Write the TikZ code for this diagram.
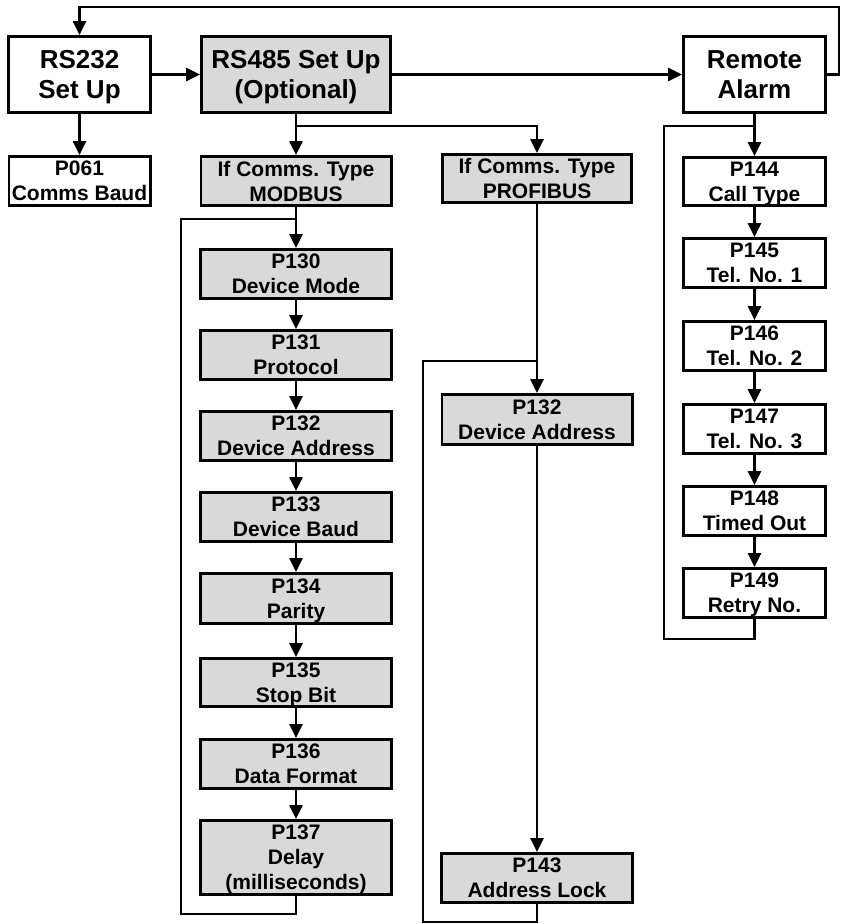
\documentclass[tikz,border=0pt]{standalone}
\usepackage{fontspec}
\setmainfont{Liberation Sans}
\usetikzlibrary{arrows.meta}
\definecolor{boxgray}{RGB}{217,217,217}
\newcommand{\bigf}{\fontsize{26}{30}\selectfont\bfseries}
\newcommand{\smallf}{\fontsize{21}{25}\selectfont\bfseries}
\tikzset{
  box/.style={draw=black, line width=2.6pt, inner sep=0pt, align=center, font=\smallf, fill=white, text depth=0pt},
  gbox/.style={box, fill=boxgray},
  bigbox/.style={font=\bigf},
  sz/.style 2 args={minimum width=#1pt-2.6pt, minimum height=#2pt-2.6pt},
  conn/.style={draw=black, line width=2.6pt},
  arr/.style={conn, -{Triangle[length=14pt,width=13pt]}}
}
\begin{document}
\begin{tikzpicture}[x=1pt,y=-1pt]
\useasboundingbox (0,0) rectangle (846,924);
% top row
\node[box,bigbox,sz={145}{79}] (rs232) at (79.5,74.5) {RS232\\Set Up};
\node[gbox,bigbox,sz={192}{79}] (rs485) at (296,74.5) {RS485 Set Up\\(Optional)};
\node[box,bigbox,sz={145}{79}] (remote) at (754.5,74.5) {Remote\\Alarm};
\node[box,sz={144}{52}] (p061) at (79.5,181) {P061\\Comms Baud};
% modbus column
\node[gbox,sz={193}{52}] (modbus) at (296,181) {If Comms. Type\\MODBUS};
\node[gbox,sz={194}{52}] (p130) at (296,274) {P130\\Device Mode};
\node[gbox,sz={194}{52}] (p131) at (296,355) {P131\\Protocol};
\node[gbox,sz={194}{52}] (p132a) at (296,436) {P132\\Device Address};
\node[gbox,sz={194}{52}] (p133) at (296,517) {P133\\Device Baud};
\node[gbox,sz={194}{53}] (p134) at (296,598.5) {P134\\Parity};
\node[gbox,sz={194}{51}] (p135) at (296,682.5) {P135\\Stop Bit};
\node[gbox,sz={194}{52}] (p136) at (296,764) {P136\\Data Format};
\node[gbox,sz={194}{77}] (p137) at (296,857.5) {P137\\Delay\\(milliseconds)};
% profibus column
\node[gbox,sz={192}{51}] (profibus) at (537,178.5) {If Comms. Type\\PROFIBUS};
\node[gbox,sz={193}{53}] (p132b) at (537,419.5) {P132\\Device Address};
\node[gbox,sz={194}{52}] (p143) at (537,878) {P143\\Address Lock};
% remote alarm column
\node[box,sz={145}{51}] (p144) at (754.5,181.5) {P144\\Call Type};
\node[box,sz={145}{52}] (p145) at (754.5,263) {P145\\Tel. No. 1};
\node[box,sz={145}{52}] (p146) at (754.5,346) {P146\\Tel. No. 2};
\node[box,sz={145}{52}] (p147) at (754.5,429) {P147\\Tel. No. 3};
\node[box,sz={145}{52}] (p148) at (754.5,511) {P148\\Timed Out};
\node[box,sz={145}{52}] (p149) at (754.5,593) {P149\\Retry No.};
% coordinates
\coordinate (tr) at (839,7);
\coordinate (br) at (296,126);
\coordinate (mlt) at (181,219);
\coordinate (mlb) at (181,914);
\coordinate (plt) at (423,361);
\coordinate (plb) at (423,922);
\coordinate (rlt) at (664,126);
\coordinate (rlb) at (664,639);
% top connectors
\draw[arr] (rs232) -- (rs485);
\draw[arr] (rs485) -- (remote);
\draw[arr] (remote.east) -| (tr) -| (rs232.north);
\draw[arr] (rs232.south) -- (p061.north);
\draw[arr] (rs485.south) -- (modbus.north);
\draw[arr] (br) -| (profibus.north);
% modbus chain
\draw[arr] (modbus) -- (p130);
\draw[arr] (p130) -- (p131);
\draw[arr] (p131) -- (p132a);
\draw[arr] (p132a) -- (p133);
\draw[arr] (p133) -- (p134);
\draw[arr] (p134) -- (p135);
\draw[arr] (p135) -- (p136);
\draw[arr] (p136) -- (p137);
\draw[conn] (p137.south) |- (mlb) -- (mlt) -- (mlt -| p130.north);
% profibus chain
\draw[arr] (profibus) -- (p132b);
\draw[arr] (p132b) -- (p143);
\draw[conn] (p143.south) |- (plb) -- (plt) -- (plt -| p132b.north);
% remote chain
\draw[arr] (remote) -- (p144);
\draw[arr] (p144) -- (p145);
\draw[arr] (p145) -- (p146);
\draw[arr] (p146) -- (p147);
\draw[arr] (p147) -- (p148);
\draw[arr] (p148) -- (p149);
\draw[conn] (p149.south) |- (rlb) -- (rlt) -- (rlt -| p144.north);
\end{tikzpicture}
\end{document}
